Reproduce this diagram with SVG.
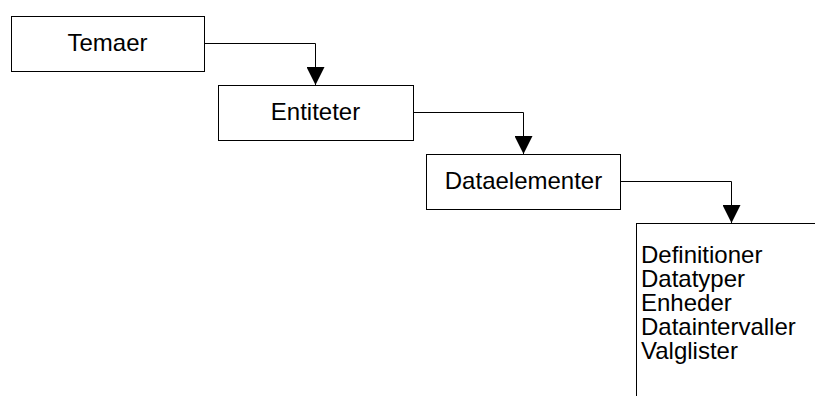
<svg xmlns="http://www.w3.org/2000/svg" width="815" height="396" viewBox="0 0 815 396">
<style>
.box{fill:#fff;stroke:#000;stroke-width:1}
.lbl{font-family:"Liberation Sans",Arial,sans-serif;font-size:24px;fill:#000}
.c{text-anchor:middle}
.con{fill:none;stroke:#000;stroke-width:1}
</style>
<defs>
<marker id="ah" viewBox="0 0 18 18" refX="18" refY="9" markerWidth="18" markerHeight="18" markerUnits="userSpaceOnUse" orient="auto">
<path d="M0,0 L18,9 L0,18 Z" fill="#000"/>
</marker>
</defs>
<rect width="815" height="396" fill="#fff"/>
<g id="temaer">
<rect class="box" x="11.5" y="16.5" width="193" height="55"/>
<text class="lbl c" x="107.5" y="51">Temaer</text>
</g>
<g id="entiteter">
<rect class="box" x="218.5" y="85.5" width="195" height="55"/>
<text class="lbl c" x="315.5" y="120">Entiteter</text>
</g>
<g id="dataelementer">
<rect class="box" x="426.5" y="154.5" width="194" height="55"/>
<text class="lbl c" x="523.5" y="188.5">Dataelementer</text>
</g>
<g id="detaljer">
<rect class="box" x="636.5" y="223.5" width="200" height="200"/>
<text class="lbl"><tspan x="641" y="263">Definitioner</tspan><tspan x="641" y="287">Datatyper</tspan><tspan x="641" y="311">Enheder</tspan><tspan x="641" y="335">Dataintervaller</tspan><tspan x="641" y="359">Valglister</tspan></text>
</g>
<g id="connectors">
<path class="con" d="M204.5,43.5 H315.5 V85" marker-end="url(#ah)"/>
<path class="con" d="M413.5,112.5 H523.5 V154" marker-end="url(#ah)"/>
<path class="con" d="M620.5,181.5 H731.5 V223" marker-end="url(#ah)"/>
</g>
</svg>
